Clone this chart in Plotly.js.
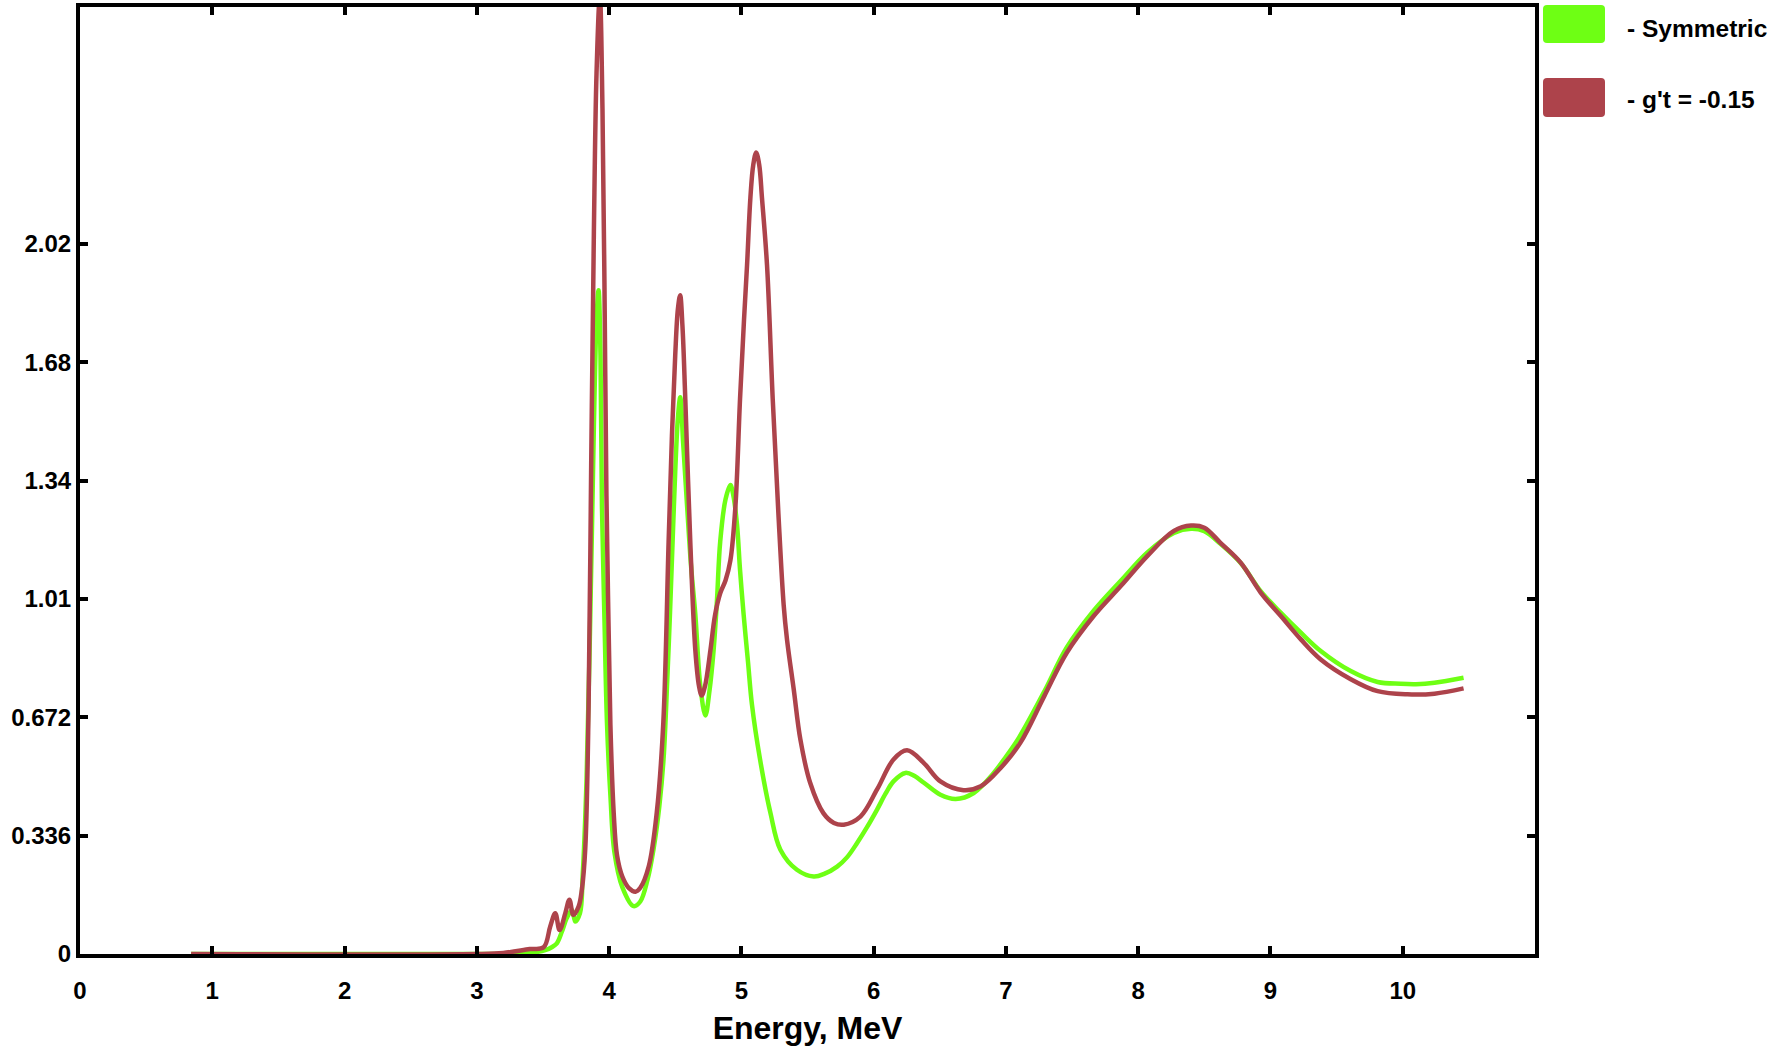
<!DOCTYPE html>
<html>
<head>
<meta charset="utf-8">
<script src="https://cdn.plot.ly/plotly-3.0.1.min.js"></script>
<style>
  html, body { margin: 0; padding: 0; background: #ffffff; }
  #chart { width: 1787px; height: 1049px; }
</style>
</head>
<body>
<div id="chart"></div>
<script>
// ---- Data ----
const seriesNames = ["- Symmetric", "- g't = -0.15"];

const symEnergy = [0.84, 3.0, 3.4, 3.517, 3.57, 3.605, 3.643, 3.68, 3.72, 3.744, 3.78, 3.80, 3.83, 3.86, 3.885, 3.905, 3.92, 3.935, 3.946, 3.965, 3.984, 4.01, 4.04, 4.1, 4.185, 4.236, 4.29, 4.337, 4.38, 4.412, 4.44, 4.46, 4.48, 4.50, 4.52, 4.538, 4.56, 4.59, 4.62, 4.652, 4.69, 4.728, 4.76, 4.79, 4.815, 4.84, 4.88, 4.917, 4.94, 4.967, 4.99, 5.017, 5.05, 5.08, 5.14, 5.22, 5.295, 5.42, 5.547, 5.63, 5.724, 5.80, 5.875, 5.95, 6.026, 6.09, 6.15, 6.24, 6.31, 6.38, 6.505, 6.62, 6.757, 6.908, 7.0, 7.1, 7.29, 7.46, 7.665, 7.87, 8.07, 8.27, 8.40, 8.50, 8.62, 8.775, 8.926, 9.077, 9.23, 9.38, 9.607, 9.81, 9.985, 10.1, 10.24, 10.46];
const symValues = [0, 0, 0.003, 0.011, 0.02, 0.03, 0.063, 0.102, 0.125, 0.092, 0.116, 0.22, 0.5, 1.0, 1.5, 1.8, 1.884, 1.7, 1.27, 0.95, 0.657, 0.45, 0.29, 0.19, 0.136, 0.149, 0.21, 0.30, 0.42, 0.555, 0.78, 0.964, 1.17, 1.37, 1.52, 1.58, 1.45, 1.27, 1.1, 0.964, 0.76, 0.677, 0.75, 0.862, 1.0, 1.17, 1.29, 1.331, 1.3, 1.219, 1.09, 0.964, 0.83, 0.708, 0.555, 0.40, 0.296, 0.239, 0.22, 0.228, 0.248, 0.275, 0.315, 0.36, 0.41, 0.455, 0.49, 0.514, 0.505, 0.486, 0.452, 0.44, 0.457, 0.514, 0.56, 0.615, 0.745, 0.87, 0.975, 1.06, 1.14, 1.195, 1.207, 1.20, 1.165, 1.11, 1.03, 0.969, 0.912, 0.86, 0.803, 0.772, 0.767, 0.766, 0.770, 0.784];

const gtEnergy = [0.84, 3.0, 3.2, 3.40, 3.505, 3.555, 3.593, 3.626, 3.669, 3.70, 3.73, 3.77, 3.794, 3.82, 3.845, 3.865, 3.885, 3.905, 3.93, 3.95, 3.965, 3.98, 3.995, 4.01, 4.035, 4.06, 4.1, 4.15, 4.20, 4.236, 4.30, 4.36, 4.41, 4.45, 4.475, 4.50, 4.52, 4.537, 4.555, 4.576, 4.614, 4.652, 4.68, 4.70, 4.725, 4.766, 4.80, 4.84, 4.88, 4.917, 4.955, 4.99, 5.02, 5.043, 5.068, 5.09, 5.112, 5.135, 5.156, 5.194, 5.237, 5.28, 5.32, 5.345, 5.396, 5.446, 5.52, 5.62, 5.70, 5.774, 5.90, 6.026, 6.15, 6.253, 6.38, 6.505, 6.68, 6.81, 6.96, 7.11, 7.29, 7.46, 7.665, 7.87, 8.07, 8.27, 8.40, 8.50, 8.62, 8.775, 8.926, 9.077, 9.23, 9.38, 9.607, 9.81, 10.035, 10.24, 10.46];
const gtValues = [0, 0, 0.003, 0.014, 0.019, 0.078, 0.116, 0.068, 0.116, 0.154, 0.111, 0.135, 0.182, 0.30, 0.7, 1.4, 2.05, 2.5, 2.72, 2.4, 1.9, 1.3, 0.95, 0.65, 0.40, 0.28, 0.22, 0.187, 0.177, 0.188, 0.249, 0.40, 0.657, 1.17, 1.47, 1.70, 1.83, 1.87, 1.78, 1.576, 1.168, 0.862, 0.76, 0.734, 0.76, 0.862, 0.96, 1.024, 1.06, 1.117, 1.27, 1.576, 1.80, 1.955, 2.145, 2.24, 2.275, 2.24, 2.145, 1.955, 1.576, 1.25, 0.99, 0.893, 0.751, 0.609, 0.486, 0.40, 0.372, 0.367, 0.39, 0.467, 0.552, 0.578, 0.542, 0.49, 0.465, 0.476, 0.528, 0.60, 0.732, 0.855, 0.96, 1.045, 1.13, 1.201, 1.216, 1.21, 1.168, 1.111, 1.026, 0.96, 0.893, 0.836, 0.78, 0.746, 0.737, 0.739, 0.754];

const xTickValues = [0, 1, 2, 3, 4, 5, 6, 7, 8, 9, 10];
const yTickValues = [0, 0.336, 0.672, 1.008, 1.344, 1.68, 2.016];
const yTickLabels = ["0", "0.336", "0.672", "1.01", "1.34", "1.68", "2.02"];
const xTitle = "Energy, MeV";

// ---- Styles ----
const GREEN = "#6eff14";
const BROWN = "#ad434b";
const FONT = "Liberation Sans, Arial, sans-serif";

const traces = [
  { x: symEnergy, y: symValues, name: seriesNames[0], type: "scatter", mode: "lines",
    line: { color: GREEN, width: 4.5, shape: "spline", smoothing: 1 }, showlegend: false },
  { x: gtEnergy, y: gtValues, name: seriesNames[1], type: "scatter", mode: "lines",
    line: { color: BROWN, width: 4.5, shape: "spline", smoothing: 1 }, showlegend: false }
];

// plot area in pixels: left 80, right 1535, top 7, bottom 954
const L = 80, R = 1535, T = 7, B = 954;
const W = 1787, H = 1049;
const px = v => (v - L) / (R - L);
const py = v => (B - v) / (B - T);

function roundRect(x0, y0, x1, y1, r) {
  // pixel coords -> paper path with rounded corners
  const X = v => px(v).toFixed(5), Y = v => py(v).toFixed(5);
  return "M" + X(x0 + r) + "," + Y(y0) +
    " L" + X(x1 - r) + "," + Y(y0) + " Q" + X(x1) + "," + Y(y0) + " " + X(x1) + "," + Y(y0 + r) +
    " L" + X(x1) + "," + Y(y1 - r) + " Q" + X(x1) + "," + Y(y1) + " " + X(x1 - r) + "," + Y(y1) +
    " L" + X(x0 + r) + "," + Y(y1) + " Q" + X(x0) + "," + Y(y1) + " " + X(x0) + "," + Y(y1 - r) +
    " L" + X(x0) + "," + Y(y0 + r) + " Q" + X(x0) + "," + Y(y0) + " " + X(x0 + r) + "," + Y(y0) + " Z";
}

const layout = {
  width: W, height: H,
  margin: { l: L, r: W - R, t: T, b: H - B, pad: 0 },
  paper_bgcolor: "#ffffff", plot_bgcolor: "#ffffff",
  font: { family: FONT, color: "#000000" },
  xaxis: {
    range: [0, 11], tickvals: xTickValues, ticktext: xTickValues.map(String),
    ticks: "inside", ticklen: 8, tickwidth: 4, tickcolor: "#000",
    showline: true, linewidth: 4, linecolor: "#000", mirror: "ticks",
    showgrid: false, zeroline: false, automargin: false,
    ticklabelstandoff: 12,
    tickfont: { family: FONT, size: 24, weight: 700, color: "#000" },
    title: { text: xTitle, font: { family: FONT, size: 32, weight: 700, color: "#000" }, standoff: 15 }
  },
  yaxis: {
    range: [0, 2.688], tickvals: yTickValues, ticktext: yTickLabels,
    ticks: "inside", ticklen: 8, tickwidth: 4, tickcolor: "#000",
    showline: true, linewidth: 4, linecolor: "#000", mirror: "ticks",
    showgrid: false, zeroline: false, automargin: false,
    ticklabelstandoff: 0,
    tickfont: { family: FONT, size: 24, weight: 700, color: "#000" }
  },
  shapes: [
    { type: "path", xref: "paper", yref: "paper", path: roundRect(1543, 5, 1605, 43, 4),
      fillcolor: GREEN, line: { width: 0 } },
    { type: "path", xref: "paper", yref: "paper", path: roundRect(1543, 78, 1605, 117, 4),
      fillcolor: BROWN, line: { width: 0 } }
  ],
  annotations: [
    { xref: "paper", yref: "paper", x: px(1625), y: py(28), xanchor: "left", yanchor: "middle",
      text: seriesNames[0], showarrow: false, font: { family: FONT, size: 24.5, weight: 700, color: "#000" } },
    { xref: "paper", yref: "paper", x: px(1625), y: py(100), xanchor: "left", yanchor: "middle",
      text: seriesNames[1], showarrow: false, font: { family: FONT, size: 24.5, weight: 700, color: "#000" } }
  ],
  showlegend: false
};

Plotly.newPlot("chart", traces, layout, { displayModeBar: false, staticPlot: true });
</script>
</body>
</html>
